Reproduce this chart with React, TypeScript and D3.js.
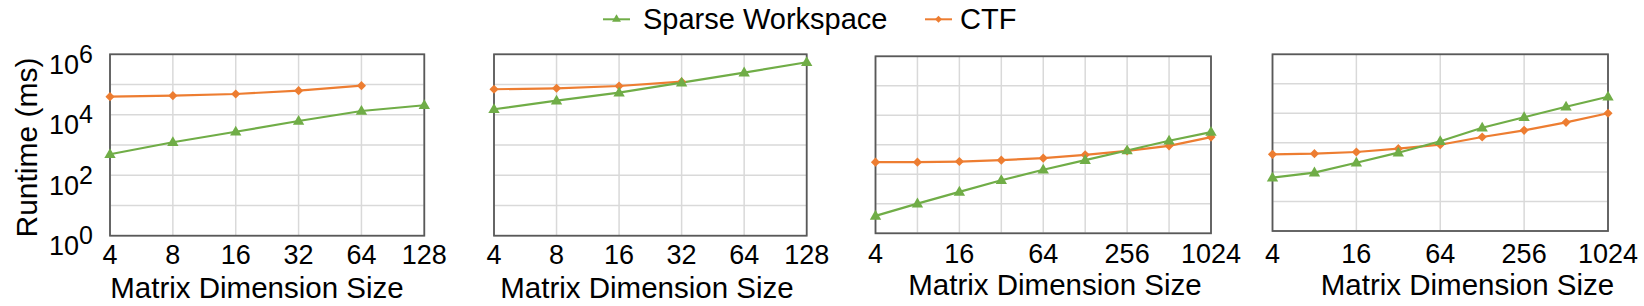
import React from "react";
import * as d3 from "d3";

// ---- data ----
const sizesSmall = [4, 8, 16, 32, 64, 128];
const sizesLarge = [4, 8, 16, 32, 64, 128, 256, 512, 1024];
const xTickLabelsSmall = [4, 8, 16, 32, 64, 128];
const xTickLabelsLarge = [4, 16, 64, 256, 1024];
const yTickExponents = [0, 2, 4, 6];
const yGridExponents = [0, 1, 2, 3, 4, 5, 6];

const p1Sparse = [493, 1230, 2750, 6220, 13300, 20600];
const p1CTF = [39600, 42800, 48700, 62700, 91600];
const p2Sparse = [15200, 29200, 53700, 115000, 247000, 545000];
const p2CTF = [69700, 75200, 89500, 124000];
const p3Sparse = [3.9, 10.1, 25.3, 63, 142, 302, 641, 1370, 2700];
const p3CTF = [258, 258, 271, 302, 353, 457, 625, 925, 1830];
const p4Sparse = [64.5, 95.5, 208, 456, 1110, 3220, 7260, 16600, 36300];
const p4CTF = [402, 422, 481, 623, 851, 1556, 2620, 4910, 9930];

const seriesNames = ["Sparse Workspace", "CTF"];
const xTitle = "Matrix Dimension Size";
const yTitle = "Runtime (ms)";

const GREEN = "#70AD47";
const ORANGE = "#ED7D31";
const GRID = "#d9d9d9";
const BORDER = "#595959";
const FONT = "'Liberation Sans', Arial, Helvetica, sans-serif";

const panels = [
  { x0: 110, x1: 424.3, y0: 54.3, y1: 235.7, sizes: sizesSmall, ticks: xTickLabelsSmall, grid: sizesSmall, sparse: p1Sparse, ctf: p1CTF, titleX: 257, titleY: 297.5, tickY: 263.5, yLabels: true },
  { x0: 494, x1: 806.7, y0: 54.3, y1: 235.7, sizes: sizesSmall, ticks: xTickLabelsSmall, grid: sizesSmall, sparse: p2Sparse, ctf: p2CTF, titleX: 647, titleY: 297.5, tickY: 264, yLabels: false },
  { x0: 875.5, x1: 1211, y0: 56.3, y1: 233.3, sizes: sizesLarge, ticks: xTickLabelsLarge, grid: sizesLarge, sparse: p3Sparse, ctf: p3CTF, titleX: 1055, titleY: 295, tickY: 263.3, yLabels: false },
  { x0: 1272.5, x1: 1608, y0: 54.3, y1: 231, sizes: sizesLarge, ticks: xTickLabelsLarge, grid: xTickLabelsLarge, sparse: p4Sparse, ctf: p4CTF, titleX: 1467.5, titleY: 295, tickY: 263.3, yLabels: false },
];

const triPath = d3.symbol(d3.symbolTriangle, 56)() as string;
const diaPath = d3.symbol(d3.symbolSquare, 42)() as string;
const triLegend = d3.symbol(d3.symbolTriangle, 34)() as string;
const diaLegend = d3.symbol(d3.symbolSquare, 24)() as string;

function Panel({ p }: { p: any }) {
  const x = d3.scaleLog().base(2).domain([p.sizes[0], p.sizes[p.sizes.length - 1]]).range([p.x0, p.x1]);
  const y = d3.scaleLog().domain([1, 1e6]).range([p.y1, p.y0]);
  const line = d3.line<[number, number]>().x((d) => x(d[0])).y((d) => y(d[1]));
  const sparsePts: [number, number][] = p.sparse.map((v: number, i: number) => [p.sizes[i], v]);
  const ctfPts: [number, number][] = p.ctf.map((v: number, i: number) => [p.sizes[i], v]);
  return (
    <g>
      {yGridExponents.map((e) => (
        <line key={"h" + e} x1={p.x0} x2={p.x1} y1={y(Math.pow(10, e))} y2={y(Math.pow(10, e))} stroke={GRID} strokeWidth={1.5} />
      ))}
      {p.grid.map((s: number) => (
        <line key={"v" + s} x1={x(s)} x2={x(s)} y1={p.y0} y2={p.y1} stroke={GRID} strokeWidth={1.5} />
      ))}
      <rect x={p.x0} y={p.y0} width={p.x1 - p.x0} height={p.y1 - p.y0} fill="none" stroke={BORDER} strokeWidth={1.8} />
      <path d={line(ctfPts) as string} fill="none" stroke={ORANGE} strokeWidth={2.2} />
      <path d={line(sparsePts) as string} fill="none" stroke={GREEN} strokeWidth={2.2} />
      {ctfPts.map((d, i) => (
        <path key={"c" + i} d={diaPath} transform={`translate(${x(d[0])},${y(d[1])}) rotate(45)`} fill={ORANGE} />
      ))}
      {sparsePts.map((d, i) => (
        <path key={"s" + i} d={triPath} transform={`translate(${x(d[0])},${y(d[1]) + 0.5})`} fill={GREEN} />
      ))}
      {p.ticks.map((t: number) => (
        <text key={"t" + t} x={x(t)} y={p.tickY} textAnchor="middle" fontSize={27} fontFamily={FONT} fill="#000">
          {t}
        </text>
      ))}
      <text x={p.titleX} y={p.titleY} textAnchor="middle" fontSize={29.5} fontFamily={FONT} fill="#000">
        {xTitle}
      </text>
      {p.yLabels &&
        yTickExponents.map((e) => (
          <text key={"y" + e} x={93} y={y(Math.pow(10, e)) + 19.5} textAnchor="end" fontFamily={FONT} fill="#000">
            <tspan fontSize={27}>10</tspan>
            <tspan fontSize={25} dy={-11}>{e}</tspan>
          </text>
        ))}
    </g>
  );
}

export default function App() {
  return (
    <svg width={1644} height={306} style={{ position: "absolute", left: 0, top: 0, background: "#fff" }}>
      <rect x={0} y={0} width={1644} height={306} fill="#fff" />
      {panels.map((p, i) => (
        <Panel key={i} p={p} />
      ))}
      <text transform="translate(37,147.5) rotate(-90)" textAnchor="middle" fontSize={30} fontFamily={FONT} fill="#000">
        {yTitle}
      </text>
      {/* legend */}
      <line x1={603} x2={630} y1={19.3} y2={19.3} stroke={GREEN} strokeWidth={2} />
      <path d={triLegend} transform="translate(616.5,19.3)" fill={GREEN} />
      <text x={643} y={28.5} fontSize={29} fontFamily={FONT} fill="#000">{seriesNames[0]}</text>
      <line x1={925} x2={952} y1={19.3} y2={19.3} stroke={ORANGE} strokeWidth={2} />
      <path d={diaLegend} transform="translate(938.5,19.3) rotate(45)" fill={ORANGE} />
      <text x={960} y={28.5} fontSize={29} fontFamily={FONT} fill="#000">{seriesNames[1]}</text>
    </svg>
  );
}
